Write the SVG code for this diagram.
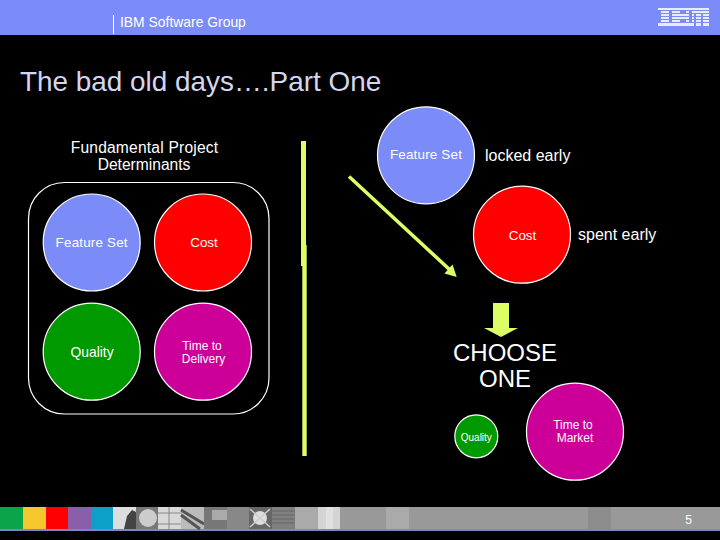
<svg xmlns="http://www.w3.org/2000/svg" width="720" height="540" viewBox="0 0 720 540">
<style>
text{font-family:"Liberation Sans",Arial,sans-serif;fill:#fff}
.c{stroke:#fff;stroke-width:1.2}
.m{text-anchor:middle}
.s13{font-size:13.4px}
.s12{font-size:12px}
.s15{font-size:15.600px}
.s16{font-size:16px}
.y{fill:#ddff66}
</style>
<rect width="720" height="540" fill="#000"/>
<g id="header">
<rect width="720" height="35" fill="#7b8cf9"/>
<rect x="113" y="15" width="1" height="19" fill="#fff"/>
<text x="120" y="27" font-size="13.900px">IBM Software Group</text>
<g id="ibm-logo">
<rect x="658" y="8" width="51" height="18" fill="#e8ecff"/>
<g fill="#7b8cf9">
<rect x="658" y="10" width="51" height="1"/><rect x="658" y="13" width="51" height="1"/><rect x="658" y="16" width="51" height="1"/><rect x="658" y="19" width="51" height="1"/><rect x="658" y="22" width="51" height="1"/>
<rect x="658" y="11" width="3" height="12"/><rect x="669" y="11" width="3" height="12"/><rect x="689" y="11" width="3" height="12"/><rect x="694" y="14" width="2" height="12"/><rect x="701" y="14" width="2" height="12"/><rect x="680" y="11" width="6" height="3"/><rect x="680" y="20" width="6" height="3"/>
</g>
</g>
</g>
<text id="title" x="20" y="91" font-size="27.900px" style="fill:#d4d6f0">The bad old days….Part One</text>
<text class="m s15" x="144.500" y="152.500" letter-spacing="0.200">Fundamental Project</text>
<text class="m s15" x="144" y="170">Determinants</text>
<rect id="group-frame" x="28.500" y="182.500" width="240.500" height="231.500" rx="36" fill="none" stroke="#fff" stroke-width="1.200"/>
<g id="left-feature"><circle class="c" cx="91.700" cy="242.500" r="48.500" fill="#7b8cf9"/><text class="m s13" x="91.700" y="246.500" letter-spacing="0.200">Feature Set</text></g>
<g id="left-cost"><circle class="c" cx="203" cy="242.500" r="48.500" fill="#ff0000"/><text class="m s13" x="204" y="246.500">Cost</text></g>
<g id="left-quality"><circle class="c" cx="91.700" cy="351.700" r="48.500" fill="#009900"/><text class="m" font-size="13.900px" x="92" y="356.500">Quality</text></g>
<g id="left-time"><circle class="c" cx="203" cy="351.700" r="48.500" fill="#cc0099"/><text class="m s12" x="202" y="350">Time to</text><text class="m s12" x="203.500" y="363">Delivery</text></g>
<g id="right-feature"><circle class="c" cx="426" cy="155.300" r="48.500" fill="#7b8cf9"/><text class="m s13" x="426" y="159.300" letter-spacing="0.200">Feature Set</text></g>
<g id="right-cost"><circle class="c" cx="522" cy="234.700" r="48.500" fill="#ff0000"/><text class="m s13" x="522.500" y="239.500">Cost</text></g>
<g id="right-quality"><circle class="c" cx="476.300" cy="436.300" r="21.500" fill="#009900"/><text class="m" font-size="10px" x="476.300" y="440.500">Quality</text></g>
<g id="right-time"><circle class="c" cx="575" cy="431.700" r="48.500" fill="#cc0099"/><text class="m s12" x="573" y="428.500">Time to</text><text class="m s12" x="575" y="441.500">Market</text></g>
<text class="s16" x="485" y="160.500">locked early</text>
<text class="s16" x="578" y="239.500">spent early</text>
<text class="m" font-size="24px" x="505" y="360.500">CHOOSE</text>
<text class="m" font-size="24px" x="505" y="386.500">ONE</text>
<g id="connectors">
<rect class="y" x="301" y="141" width="5" height="125"/>
<rect class="y" x="302.300" y="245" width="4.400" height="211"/>
<path d="M349 176.500L449.500 269.500" stroke="#ddff66" stroke-width="3.500" fill="none"/>
<path class="y" d="M456.700 277L444.500 273.500L452.500 264.500Z"/>
<path class="y" d="M493 303H509V328H518L501 337L484 328H493Z"/>
</g>
<g id="footer">
<rect x="0" y="507" width="720" height="22" fill="#999"/>
<rect x="0" y="529" width="720" height="2" fill="#7f86c8"/>
<rect x="0" y="507" width="23" height="22" fill="#0ca44a"/>
<rect x="23" y="507" width="23" height="22" fill="#f4c82c"/>
<rect x="46" y="507" width="22" height="22" fill="#ff0000"/>
<rect x="68" y="507" width="23" height="22" fill="#8a5ea8"/>
<rect x="91" y="507" width="22" height="22" fill="#0ca0c8"/>
<rect x="113" y="507" width="23" height="22" fill="#ddd"/>
<path d="M124 529L127 516L132 510L136 512V529Z" fill="#444"/>
<rect x="136" y="507" width="22" height="22" fill="#777"/>
<circle cx="148" cy="518" r="9" fill="#ccc"/>
<rect x="158" y="507" width="23" height="22" fill="#d8d8d8"/>
<path d="M158 513H181M158 524H181M169 507V529" stroke="#888" stroke-width="1" fill="none"/>
<rect x="181" y="507" width="23" height="22" fill="#bbb"/>
<path d="M181 510L204 524M181 515L200 529" stroke="#555" stroke-width="3" fill="none"/>
<rect x="204" y="507" width="23" height="22" fill="#777"/>
<rect x="212" y="510" width="15" height="10" fill="#aaa"/>
<rect x="227" y="507" width="22" height="22" fill="#888"/>
<rect x="249" y="507" width="23" height="22" fill="#666"/>
<circle cx="260" cy="518" r="7" fill="#ddd"/>
<path d="M250 509L270 527M270 509L250 527" stroke="#ccc" stroke-width="1.500"/>
<rect x="272" y="507" width="23" height="22" fill="#808080"/>
<path d="M272 511H295M272 515H295M272 519H295M272 523H295" stroke="#666" stroke-width="1"/>
<rect x="295" y="507" width="23" height="22" fill="#aaa"/>
<rect x="318" y="507" width="22" height="22" fill="#d4d4d4"/>
<rect x="326" y="507" width="7" height="22" fill="#e0e0e0"/>
<rect x="386" y="507" width="23" height="22" fill="#aaa"/>
<rect x="588" y="507" width="23" height="22" fill="#8c8c8c"/>
<text x="688.500" y="524" class="m" font-size="12px">5</text>
</g>
</svg>
